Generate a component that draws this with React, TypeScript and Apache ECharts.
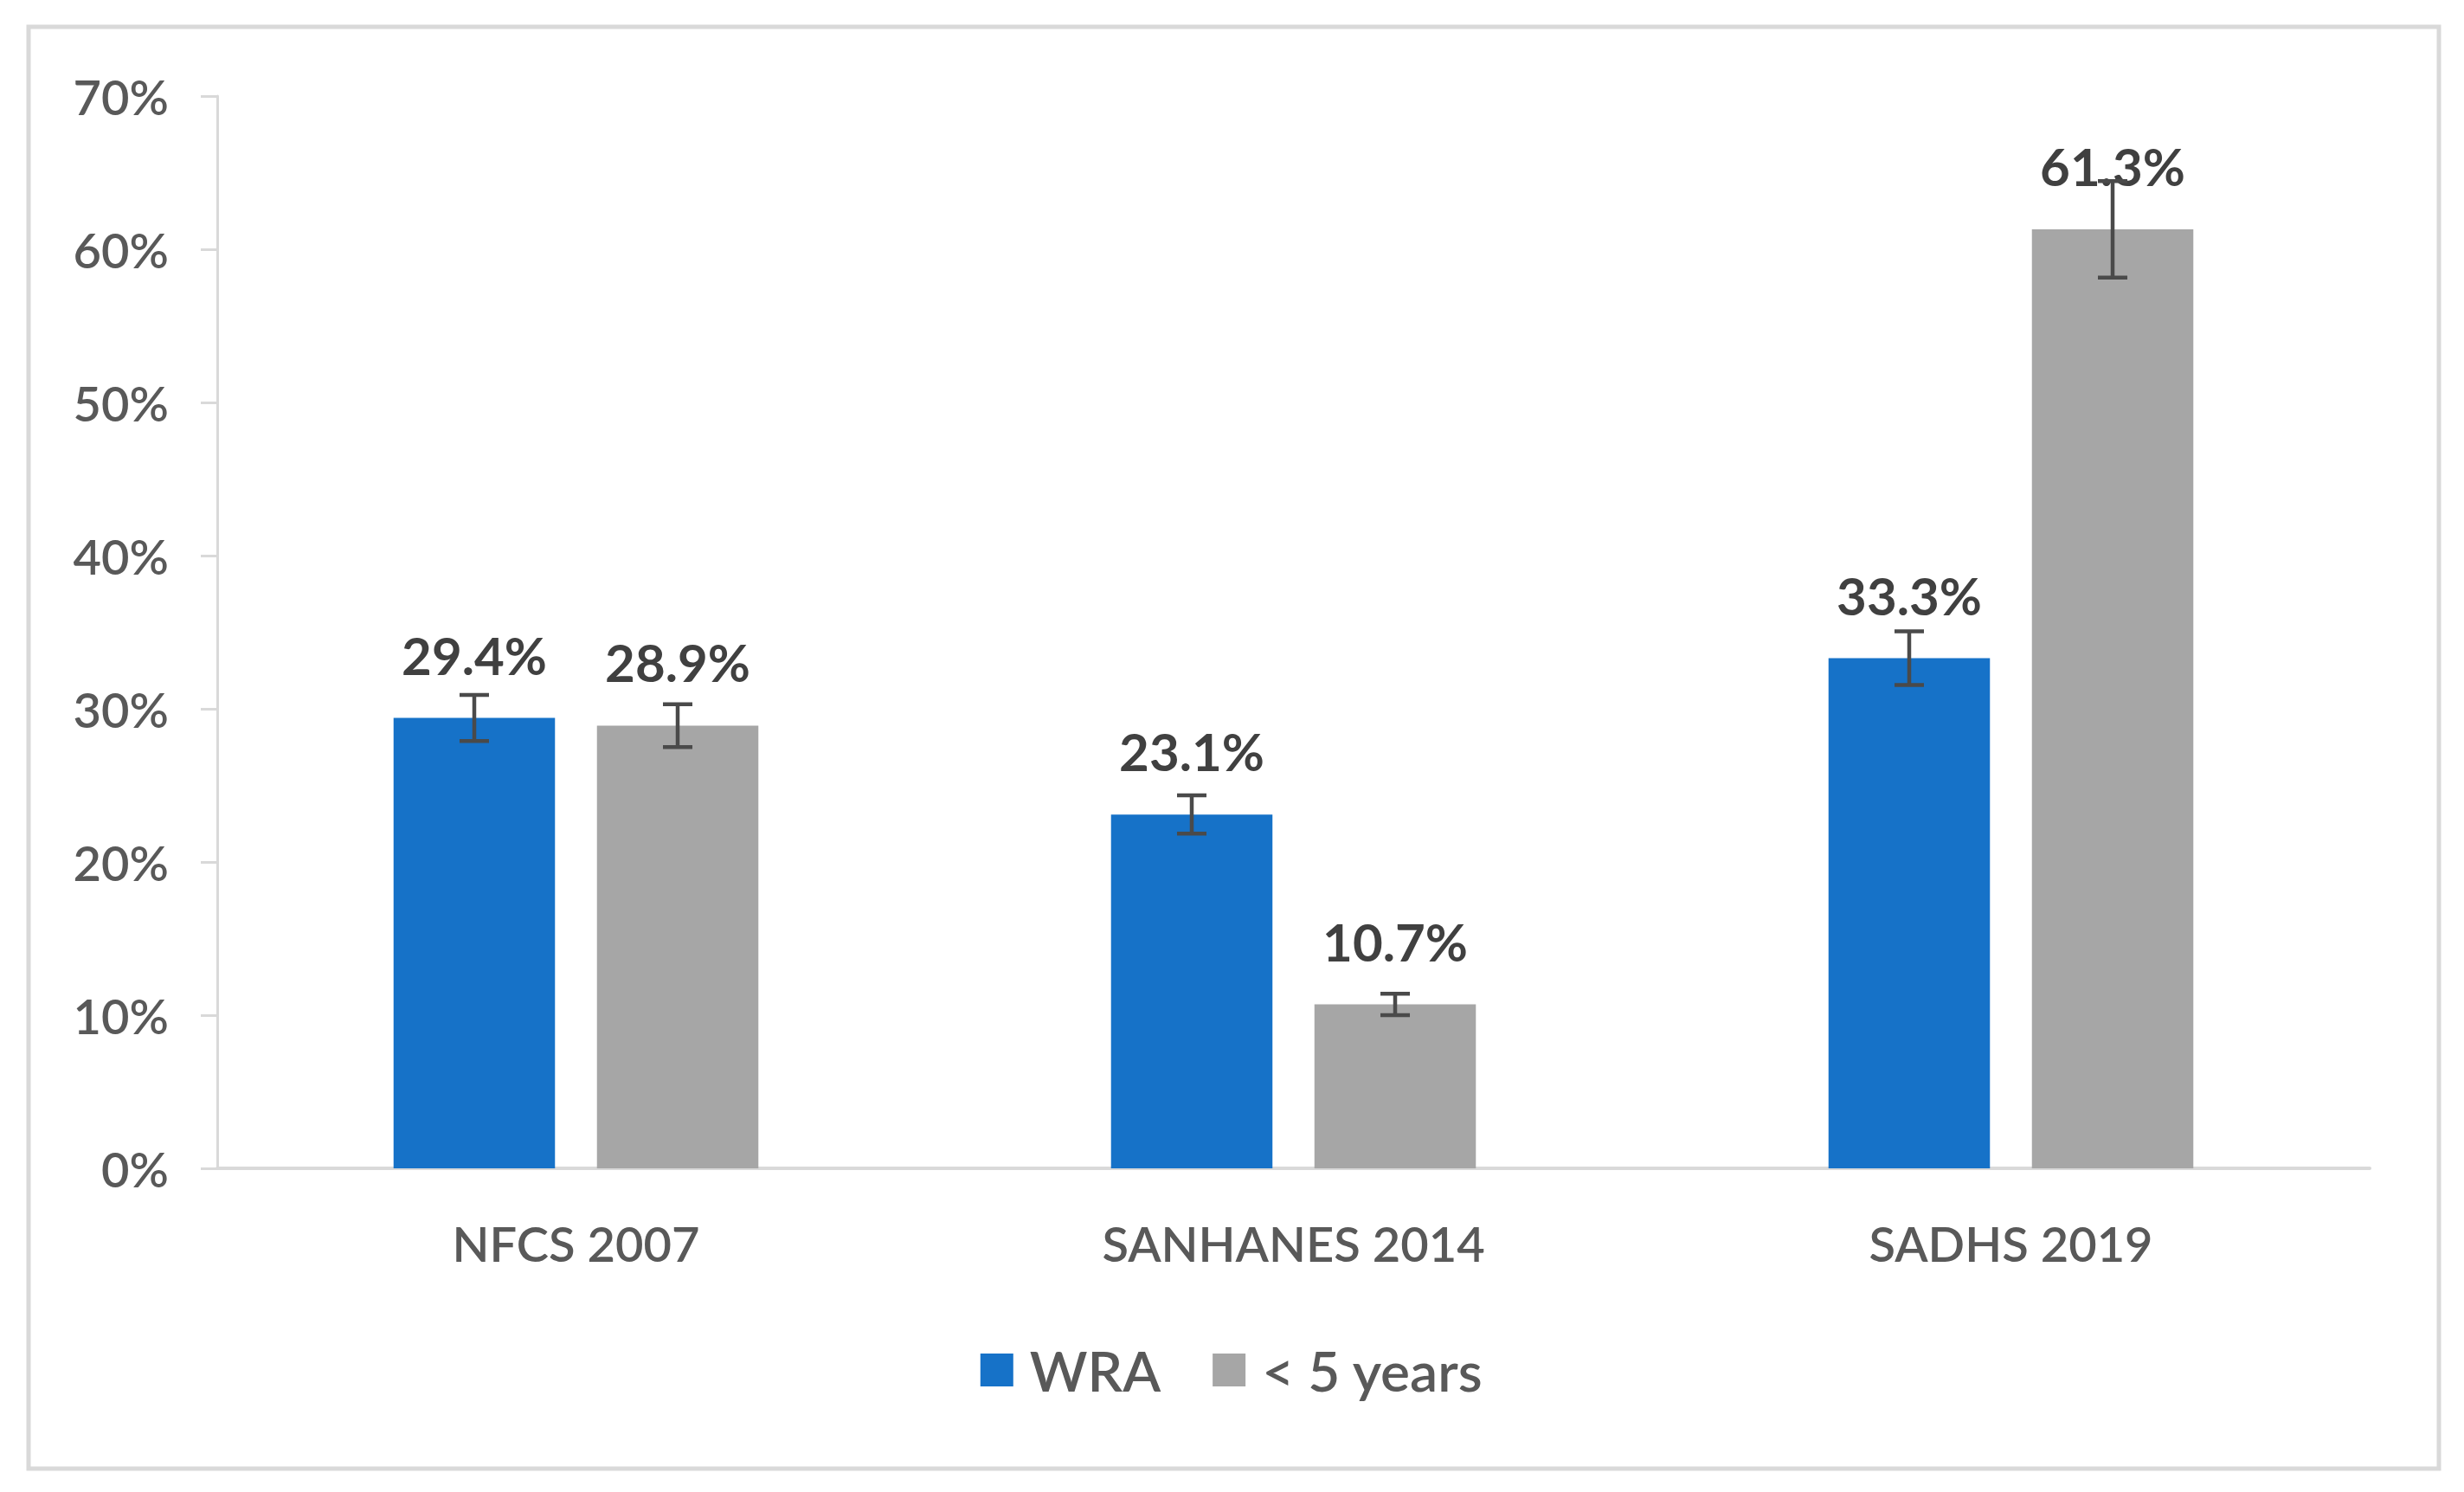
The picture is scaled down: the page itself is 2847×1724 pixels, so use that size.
import React, { useEffect, useRef } from "react";
import * as echarts from "echarts";

const categories = ["NFCS 2007", "SANHANES 2014", "SADHS 2019"];
const seriesNames = ["WRA", "< 5 years"];
const wraValues = [29.4, 23.1, 33.3];
const underFiveValues = [28.9, 10.7, 61.3];
const wraErrors = [1.5, 1.25, 1.75];
const underFiveErrors = [1.4, 0.7, 3.15];
const yTicks = { min: 0, max: 70, interval: 10 };
const colors = ["#1672C8", "#A6A6A6"];

const FONT = "Lato, 'Noto Sans', sans-serif";
const BAR_W = 0.225;
const BAR_GAP = 0.26;

function errorSeries(values: number[], errors: number[], side: number) {
  const data = values.map((v, i) => [i, v - errors[i], v + errors[i]]);
  return {
    type: "custom",
    silent: true,
    z: 5,
    data,
    encode: { x: 0, y: [1, 2] },
    renderItem: (params: any, api: any) => {
      const idx = api.value(0);
      const lo = api.coord([idx, api.value(1)]);
      const hi = api.coord([idx, api.value(2)]);
      const band = api.size([1, 0])[0];
      const off = side * band * (BAR_W + BAR_W * BAR_GAP) / 2;
      const x = lo[0] + off;
      const cap = 17;
      const style = { stroke: "#4a4a4a", lineWidth: 4.5 };
      return {
        type: "group",
        children: [
          { type: "line", shape: { x1: x, y1: lo[1], x2: x, y2: hi[1] }, style },
          { type: "line", shape: { x1: x - cap, y1: hi[1], x2: x + cap, y2: hi[1] }, style },
          { type: "line", shape: { x1: x - cap, y1: lo[1], x2: x + cap, y2: lo[1] }, style },
        ],
      };
    },
  };
}

export default function App() {
  const ref = useRef<HTMLDivElement>(null);
  useEffect(() => {
    if (!ref.current) return;
    const chart = echarts.init(ref.current, undefined, { renderer: "svg" });
    const dataLabel = {
      show: true,
      position: "top",
      distance: 43,
      formatter: (p: any) => p.value.toFixed(1) + "%",
      fontFamily: FONT,
      fontSize: 60,
      fontWeight: "bold",
      color: "#404040",
    };
    chart.setOption({
      animation: false,
      backgroundColor: "#ffffff",
      color: colors,
      graphic: [
        {
          type: "rect",
          shape: { x: 33, y: 31, width: 2785, height: 1666 },
          style: { fill: "none", stroke: "#d9d9d9", lineWidth: 5 },
          silent: true,
        },
      ],
      grid: { left: 251, right: 109, top: 111, bottom: 374, containLabel: false },
      legend: {
        show: true,
        left: "center",
        top: 1546,
        itemWidth: 38,
        itemHeight: 38,
        itemGap: 60,
        icon: "rect",
        data: seriesNames,
        textStyle: { fontFamily: FONT, fontSize: 64, fontWeight: 600, color: "#595959", padding: [0, 0, 0, 14] },
      },
      xAxis: {
        type: "category",
        data: categories,
        axisLine: { show: true, lineStyle: { color: "#d9d9d9", width: 4 } },
        axisTick: { show: false },
        axisLabel: { fontFamily: FONT, fontSize: 56, fontWeight: 600, color: "#595959", margin: 58 },
        splitLine: { show: false },
      },
      yAxis: {
        type: "value",
        min: yTicks.min,
        max: yTicks.max,
        interval: yTicks.interval,
        axisLine: { show: true, lineStyle: { color: "#d9d9d9", width: 3 } },
        axisTick: { show: true, length: 19, lineStyle: { color: "#d9d9d9", width: 3 } },
        axisLabel: {
          fontFamily: FONT,
          fontSize: 56,
          fontWeight: 600,
          color: "#595959",
          margin: 56,
          formatter: "{value}%",
        },
        splitLine: { show: false },
      },
      series: [
        {
          name: seriesNames[0],
          type: "bar",
          data: wraValues,
          barWidth: BAR_W * 100 + "%",
          barGap: BAR_GAP * 100 + "%",
          itemStyle: { color: colors[0] },
          label: dataLabel,
        },
        {
          name: seriesNames[1],
          type: "bar",
          data: underFiveValues,
          barWidth: BAR_W * 100 + "%",
          barGap: BAR_GAP * 100 + "%",
          itemStyle: { color: colors[1] },
          label: dataLabel,
        },
        errorSeries(wraValues, wraErrors, -1),
        errorSeries(underFiveValues, underFiveErrors, 1),
      ],
    });
    return () => chart.dispose();
  }, []);
  return (
    <div
      ref={ref}
      style={{ position: "fixed", left: 0, top: 0, width: 2847, height: 1724, background: "#fff" }}
    />
  );
}
